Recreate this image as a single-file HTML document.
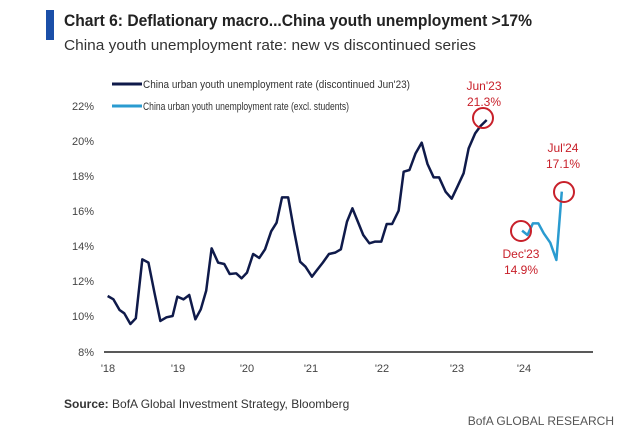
<!DOCTYPE html>
<html><head><meta charset="utf-8"><style>
body{margin:0;background:#fff;}
svg{display:block;font-family:"Liberation Sans",sans-serif;}
</style></head><body>
<svg width="620" height="438" viewBox="0 0 620 438">
<rect x="46" y="10" width="8" height="30" fill="#1a4fa8"/>
<text x="64" y="26" font-size="17" font-weight="bold" fill="#222" textLength="468" lengthAdjust="spacingAndGlyphs">Chart 6: Deflationary macro...China youth unemployment &gt;17%</text>
<text x="64" y="50" font-size="15" fill="#333" textLength="412" lengthAdjust="spacingAndGlyphs">China youth unemployment rate: new vs discontinued series</text>
<line x1="112" y1="84" x2="142" y2="84" stroke="#0f1a4a" stroke-width="3"/>
<text x="143" y="88" font-size="11" fill="#333" textLength="267" lengthAdjust="spacingAndGlyphs">China urban youth unemployment rate (discontinued Jun'23)</text>
<line x1="112" y1="106" x2="142" y2="106" stroke="#2a9bd0" stroke-width="3"/>
<text x="143" y="110" font-size="11" fill="#333" textLength="206" lengthAdjust="spacingAndGlyphs">China urban youth unemployment rate (excl. students)</text>
<g font-size="11" fill="#444" text-anchor="end">
<text x="94" y="110">22%</text><text x="94" y="145">20%</text><text x="94" y="180">18%</text><text x="94" y="215">16%</text><text x="94" y="250">14%</text><text x="94" y="285">12%</text><text x="94" y="320">10%</text><text x="94" y="356">8%</text>
</g>
<line x1="104" y1="352" x2="593" y2="352" stroke="#222" stroke-width="1.5"/>
<g font-size="11" fill="#444" text-anchor="middle">
<text x="108" y="372">'18</text><text x="178" y="372">'19</text><text x="247" y="372">'20</text><text x="311" y="372">'21</text><text x="382" y="372">'22</text><text x="457" y="372">'23</text><text x="524" y="372">'24</text>
</g>
<g transform="translate(60,120) scale(0.361,0.3333)" fill="none">
<polyline vector-effect="non-scaling-stroke" stroke="#0f1a4a" stroke-width="2.5" stroke-linejoin="round" points="132,528 148,538 165,570 178,580 195,612 210,595 228,418 245,428 262,520 278,603 295,592 312,588 325,530 342,538 358,525 375,598 390,568 405,512 420,385 438,428 455,432 470,462 488,460 503,475 518,458 535,402 552,414 568,388 585,334 600,308 615,232 632,232 648,330 665,425 680,440 698,470 712,450 728,428 745,402 762,398 778,388 795,305 810,265 825,305 840,345 857,370 872,365 890,365 905,312 920,312 938,272 952,155 968,150 985,100 1002,68 1018,132 1035,172 1050,172 1068,215 1085,236 1100,202 1118,160 1132,85 1150,40 1165,18 1182,0"/>
<polyline vector-effect="non-scaling-stroke" stroke="#2a9bd0" stroke-width="2.5" stroke-linejoin="round" points="1280,332 1295,345 1310,310 1325,310 1340,340 1358,368 1375,420 1390,215"/>
</g>
<g fill="none" stroke="#c8202a" stroke-width="2">
<circle cx="483" cy="118" r="10"/><circle cx="521" cy="231" r="10"/><circle cx="564" cy="192" r="10"/>
</g>
<g font-size="12" fill="#c8202a" text-anchor="middle">
<text x="484" y="90">Jun'23</text><text x="484" y="106">21.3%</text>
<text x="563" y="152">Jul'24</text><text x="563" y="168">17.1%</text>
<text x="521" y="258">Dec'23</text><text x="521" y="274">14.9%</text>
</g>
<text x="64" y="408" font-size="12" fill="#333"><tspan font-weight="bold">Source:</tspan> BofA Global Investment Strategy, Bloomberg</text>
<text x="614" y="425" font-size="12" fill="#555" text-anchor="end">BofA GLOBAL RESEARCH</text>
</svg>
</body></html>
